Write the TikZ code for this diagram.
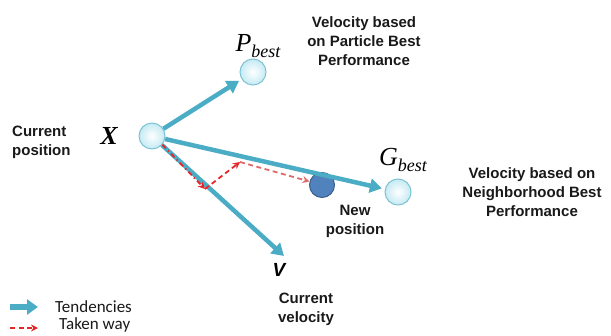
\documentclass[tikz,border=0pt]{standalone}
\usepackage{fontspec}
\setmainfont{Liberation Sans}
\newfontfamily\serifit{Liberation Serif}
\newfontfamily\legfont{Carlito}
\usetikzlibrary{arrows.meta}
\definecolor{teal1}{HTML}{4BACC6}
\definecolor{ballfill}{HTML}{C4EAF3}
\definecolor{ballborder}{HTML}{7FC3D3}
\definecolor{newfill}{HTML}{5083BE}
\definecolor{newborder}{HTML}{3B5E8C}
\definecolor{red1}{HTML}{E8262A}
\definecolor{red2}{HTML}{E06A6A}
\begin{document}
\begin{tikzpicture}[x=1pt,y=-1pt,
 ball/.style={circle,minimum size=26pt,inner sep=0pt,draw=ballborder,line width=1pt,inner color=white,outer color=ballfill},
 newball/.style={circle,minimum size=25pt,inner sep=0pt,draw=newborder,line width=1pt,fill=newfill},
 tend/.style={draw=teal1,line width=4.5pt,shorten >=3pt,-{Triangle[length=12pt,width=14pt]}},
 taken/.style={draw=red1,line width=1.8pt,dash pattern=on 5pt off 3.5pt,-{Stealth[length=7pt,width=7pt]}},
 lbl/.style={font=\bfseries\fontsize{15}{19}\selectfont,align=center,inner sep=0pt,text=black!90},
 leg/.style={font=\legfont\fontsize{17}{17}\selectfont,anchor=west,inner sep=0pt,text=black!90},
]
\useasboundingbox (0,0) rectangle (611,335);
% circles
\node[ball] (X) at (152,136) {};
\node[ball] (Pb) at (253,72) {};
\node[ball] (Gb) at (398,192) {};
\node[newball] (NP) at (322,185) {};
% symbol labels
\node[font=\serifit\bfseries\itshape\fontsize{26}{26}\selectfont,inner sep=0pt] (Xl) at (109,136) {X};
\node[inner sep=0pt] (Pl) at (258,46) {\serifit\itshape\fontsize{26}{26}\selectfont P\raisebox{-6pt}{\fontsize{18}{18}\selectfont best}};
\node[inner sep=0pt] (Gl) at (403,160) {\serifit\itshape\fontsize{26}{26}\selectfont G\raisebox{-6pt}{\fontsize{18}{18}\selectfont best}};
\node[font=\bfseries\itshape\fontsize{19}{19}\selectfont,inner sep=0pt] (V) at (279,270) {V};
\coordinate (Vt) at (284,256);
% tendencies
\draw[tend] (X) -- (Pb);
\draw[tend] (X) -- (Gb);
\draw[tend,shorten >=0pt] (X) -- (Vt);
% taken way
\coordinate (A) at (205,189);
\coordinate (B) at (240,162);
\draw[taken,dash pattern=on 5pt off 3pt on 1.5pt off 3pt] (X.-40) -- (A);
\draw[taken] (A) -- (B);
\draw[taken,draw=red2] (B) -- (NP);
% text labels
\node[lbl,align=left,anchor=west] (cp) at (12,142) {Current\\position};
\node[lbl] (vp) at (364,41) {Velocity based\\on Particle Best\\Performance};
\node[lbl] (vg) at (532,192) {Velocity based on\\Neighborhood Best\\Performance};
\node[lbl] (np) at (355,221) {New\\position};
\node[lbl] (cv) at (306,309) {Current\\velocity};
% legend
\coordinate (l1a) at (10,307);
\coordinate (l1b) at (38,307);
\draw[draw=teal1,line width=6pt,-{Triangle[length=11pt,width=15pt]}] (l1a) -- (l1b);
\node[leg] (t1) at (55,307) {Tendencies};
\coordinate (l2a) at (10,328);
\coordinate (l2b) at (38,328);
\draw[taken] (l2a) -- (l2b);
\node[leg] (t2) at (59,325) {Taken way};
\end{tikzpicture}
\end{document}
